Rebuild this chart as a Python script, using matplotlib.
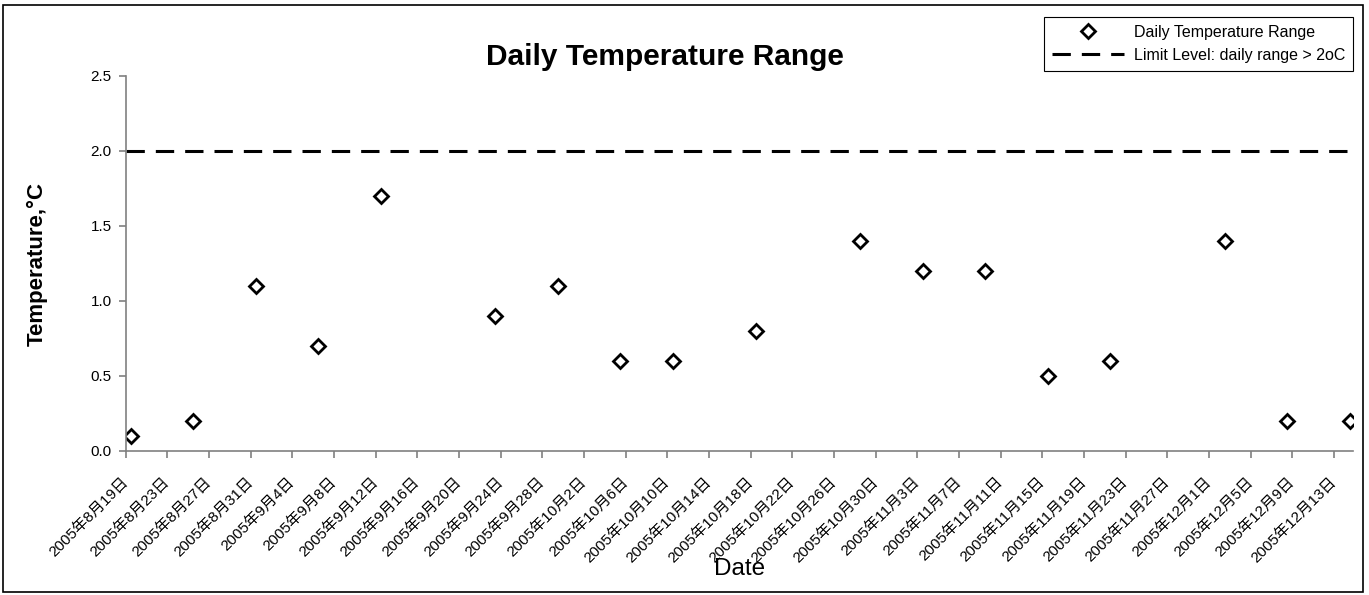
import matplotlib
matplotlib.use("Agg")
import matplotlib.pyplot as plt
import matplotlib.dates as mdates
from matplotlib.transforms import ScaledTranslation
from matplotlib.patches import Rectangle
import pandas as pd

# data
dates = pd.to_datetime([
    "2005-08-19", "2005-08-25", "2005-08-31", "2005-09-06", "2005-09-12",
    "2005-09-23", "2005-09-29", "2005-10-05", "2005-10-10", "2005-10-18",
    "2005-10-28", "2005-11-03", "2005-11-09", "2005-11-15", "2005-11-21",
    "2005-12-02", "2005-12-08", "2005-12-14",
])
daily_range = [0.1, 0.2, 1.1, 0.7, 1.7,
               0.9, 1.1, 0.6, 0.6, 0.8,
               1.4, 1.2, 1.2, 0.5, 0.6,
               1.4, 0.2, 0.2]
limit_level = 2.0
tick_dates = pd.date_range("2005-08-19", "2005-12-13", freq="4D")
tick_labels = [f"{d.year}年{d.month}月{d.day}日" for d in tick_dates]

W, H = 1369, 595
fig = plt.figure(figsize=(W / 100, H / 100), dpi=100)
ax = fig.add_axes([125.7 / W, 1 - 450.7 / H, (1353.3 - 125.7) / W, (450.7 - 75.7) / H])

x_start = pd.Timestamp("2005-08-19")
x_end = x_start + pd.Timedelta(days=117.85)

# excel puts each point in the middle of its day
x_pts = dates + pd.Timedelta(hours=12)
ax.plot(x_pts, daily_range, linestyle="none", marker="D", ms=7.5,
        mfc="white", mec="black", mew=2, label="Daily Temperature Range")
ax.plot([x_start, x_end], [limit_level, limit_level], color="black", lw=2.2,
        dashes=(6, 3.6), label="Limit Level: daily range > 2oC")

ax.set_xlim(x_start, x_end)
ax.set_ylim(0, 2.5)
yticks = [0, 0.5, 1.0, 1.5, 2.0, 2.5]
ax.set_yticks(yticks)
ax.set_yticklabels([f"{v:.1f}" for v in yticks],
                   family=["Liberation Sans", "DejaVu Sans"], fontsize=11)
ax.set_xticks(mdates.date2num(tick_dates))
ax.set_xticklabels(tick_labels, rotation=45, ha="right", va="center",
                   rotation_mode="anchor", fontsize=11,
                   family=["Liberation Sans", "Noto Sans CJK JP"])
for lab in ax.get_xticklabels():
    lab.set_transform(lab.get_transform() + ScaledTranslation(-15 / 100, 0, fig.dpi_scale_trans))

for side in ["top", "right"]:
    ax.spines[side].set_visible(False)
for side in ["left", "bottom"]:
    ax.spines[side].set_color("#808080")
    ax.spines[side].set_linewidth(1.2)
ax.tick_params(axis="both", direction="out", length=5, width=1.2, color="#808080")
ax.tick_params(axis="x", pad=16)
ax.tick_params(axis="y", pad=5)

fig.text(665 / W, 1 - 57 / H, "Daily Temperature Range", ha="center", va="center",
         fontsize=21.5, fontweight="bold", family="Liberation Sans")
fig.text(37 / W, 1 - 264 / H, "Temperature,°C", rotation=90, ha="center", va="center",
         fontsize=16, fontweight="bold", family="Liberation Sans")
fig.text(740 / W, 1 - 569 / H, "Date", ha="center", va="center",
         fontsize=17.5, family="Liberation Sans")

leg = fig.legend(loc="upper right", bbox_to_anchor=(1353 / W, 1 - 17 / H),
                 prop={"family": "Liberation Sans", "size": 11.5},
                 handlelength=4.5, handletextpad=0.6, borderpad=0.5,
                 labelspacing=0.5, fancybox=False, framealpha=1, borderaxespad=0)
leg.get_frame().set_edgecolor("black")
leg.get_frame().set_linewidth(0.8)

fig.patches.append(Rectangle((3 / W, 3 / H), (1363 - 3) / W, (590 - 3) / H,
                             transform=fig.transFigure, fill=False,
                             edgecolor="black", lw=1.2))

fig.savefig("out.png", dpi=100)
